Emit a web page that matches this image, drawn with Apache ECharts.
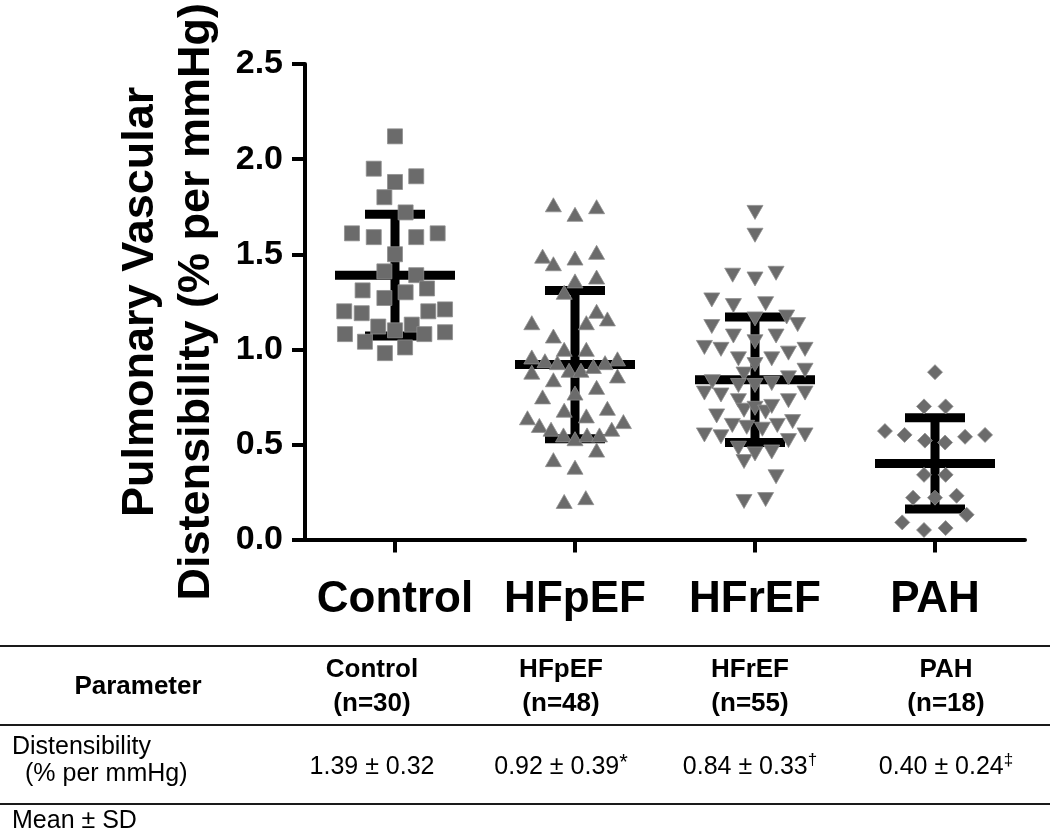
<!DOCTYPE html>
<html>
<head>
<meta charset="utf-8">
<script src="https://cdn.jsdelivr.net/npm/echarts@6/dist/echarts.min.js"></script>
<style>html,body{margin:0;padding:0;background:#fff;}#c{width:1050px;height:833px;}</style>
</head>
<body>
<div id="c"></div>
<script>
// ---- data ----
const groups = ['Control', 'HFpEF', 'HFrEF', 'PAH'];
const nCounts = [30, 48, 55, 18];
const means = [1.39, 0.92, 0.84, 0.40];
const sds = [0.32, 0.39, 0.33, 0.24];
const sigMarks = ['', '*', '\u2020', '\u2021'];
const yTicks = [0, 0.5, 1.0, 1.5, 2.0, 2.5];

const controlVals = [2.12,1.95,1.88,1.91,1.80,1.72,1.61,1.59,1.59,1.61,1.50,1.41,1.39,1.31,1.30,1.32,1.27,1.20,1.19,1.20,1.21,1.12,1.13,1.08,1.10,1.08,1.09,1.04,1.01,0.98];
const controlJitter = [0,-0.118,0,0.118,-0.059,0.059,-0.239,-0.118,0.118,0.237,0,-0.059,0.118,-0.18,0.059,0.178,-0.059,-0.282,-0.185,0.185,0.278,-0.093,0.093,-0.278,0,0.163,0.278,-0.167,0.056,-0.056];

const hfpefVals = [1.76,1.71,1.75,1.49,1.45,1.48,1.51,1.36,1.38,1.30,1.20,1.16,1.14,1.14,1.07,1.00,1.00,0.96,0.94,0.93,0.95,0.93,0.88,0.89,0.89,0.91,0.86,0.84,0.80,0.77,0.75,0.68,0.69,0.64,0.60,0.65,0.62,0.58,0.58,0.55,0.53,0.55,0.55,0.47,0.42,0.38,0.20,0.22];
const hfpefJitter = [-0.12,0,0.12,-0.18,-0.12,0,0.12,0,0.12,-0.06,0.12,0.18,-0.24,0.063,-0.12,-0.06,0.063,-0.24,-0.167,-0.098,0.236,0.167,-0.24,-0.033,0.033,0.102,0.236,-0.12,0.12,0,-0.18,-0.06,0.18,-0.264,-0.198,0.063,0.269,-0.133,0.204,-0.064,0,0.067,0.136,0.12,-0.12,0,-0.06,0.06];

const hfrefVals = [1.72,1.60,1.39,1.37,1.40,1.26,1.23,1.24,1.16,1.17,1.13,1.12,1.07,1.07,1.04,1.01,1.00,1.00,0.95,0.95,0.98,0.92,0.89,0.87,0.83,0.85,0.81,0.81,0.82,0.77,0.76,0.77,0.73,0.73,0.68,0.69,0.67,0.70,0.65,0.60,0.59,0.58,0.60,0.62,0.55,0.54,0.55,0.52,0.48,0.45,0.46,0.41,0.33,0.20,0.21];
const hfrefJitter = [0,0,-0.124,0,0.117,-0.24,-0.12,0.059,0,0.176,0.237,-0.24,-0.12,0.117,0,-0.281,-0.189,0.278,-0.092,0.093,0.186,0,0.278,-0.061,-0.237,0.186,-0.092,0,0.093,-0.281,-0.189,0.278,-0.092,0.186,-0.061,0,0.059,0.093,-0.213,-0.126,-0.046,0.041,0.124,0.209,-0.281,-0.189,0.278,0.186,-0.092,0,0.093,-0.061,0.117,-0.061,0.059];

const pahVals = [0.88,0.70,0.70,0.57,0.55,0.52,0.51,0.54,0.55,0.34,0.34,0.22,0.22,0.23,0.13,0.09,0.05,0.06];
const pahJitter = [0,-0.061,0.059,-0.278,-0.169,-0.056,0.056,0.167,0.278,-0.061,0.059,-0.122,0,0.12,0.176,-0.182,-0.061,0.059];

// ---- build ----
const FONT = '"Liberation Sans", Arial, Helvetica, sans-serif';
const pts = (vals, jit, gi) => vals.map((v, i) => [gi + jit[i], v]);
const pointColor = '#6b6b6b';
const pointBorder = '#8f8f8f';

function scatter(name, data, symbol, size, rotate) {
  return {
    type: 'scatter', name, xAxisIndex: 1, yAxisIndex: 0, data,
    symbol, symbolSize: size, symbolRotate: rotate || 0, z: 5,
    itemStyle: { color: pointColor, borderColor: pointBorder, borderWidth: 0.8, opacity: 1 },
    emphasis: { disabled: true }, silent: true
  };
}

const statsData = groups.map((g, i) => [i, means[i], sds[i]]);

const chart = echarts.init(document.getElementById('c'), null, { renderer: 'canvas' });

const colCenters = [372, 561, 750, 946];
const graphics = [];
[646, 725, 804].forEach(y => graphics.push({
  type: 'line', shape: { x1: 0, y1: y, x2: 1050, y2: y },
  style: { stroke: '#1a1a1a', lineWidth: 2 }, silent: true
}));
function txt(text, x, y, size, weight, align, extra) {
  const st = Object.assign({
    text, x, y, fontSize: size, fontWeight: weight, fontFamily: FONT, fill: '#000',
    textAlign: align, align: align, textVerticalAlign: 'middle', verticalAlign: 'middle'
  }, extra || {});
  graphics.push({ type: 'text', style: st, silent: true });
}
txt('Parameter', 138, 687, 26, 'bold', 'center');
groups.forEach((g, i) => {
  txt(g + '\n(n=' + nCounts[i] + ')', colCenters[i], 687, 26, 'bold', 'center', { lineHeight: 34 });
  const main = means[i].toFixed(2) + ' \u00b1 ' + sds[i].toFixed(2);
  const t = sigMarks[i] ? '{v|' + main + '}{s|' + sigMarks[i] + '}' : '{v|' + main + '}';
  txt(t, colCenters[i], 767, 25, 'normal', 'center', {
    rich: {
      v: { fontSize: 25, fontFamily: FONT, fill: '#000', lineHeight: 30 },
      s: { fontSize: sigMarks[i] === '*' ? 22 : 17, fontFamily: FONT, fill: '#000', verticalAlign: 'top', lineHeight: 30 }
    }
  });
});
txt('Distensibility', 12, 747, 25, 'normal', 'left');
txt('(% per mmHg)', 25, 774, 25, 'normal', 'left');
txt('Mean \u00b1 SD', 12, 821, 25, 'normal', 'left');

const option = {
  backgroundColor: '#fff',
  animation: false,
  grid: { left: 305, right: 25, top: 63, bottom: 293.5, containLabel: false },
  xAxis: [
    {
      type: 'category', data: groups, boundaryGap: true,
      axisLine: { show: true, onZero: false, lineStyle: { color: '#000', width: 4 } },
      axisTick: { show: true, alignWithLabel: true, interval: 0, length: 13, lineStyle: { color: '#000', width: 4 } },
      axisLabel: { interval: 0, color: '#000', fontSize: 44, fontWeight: 'bold', fontFamily: FONT, margin: 38 },
      splitLine: { show: false }
    },
    { type: 'value', min: -0.5, max: 3.5, show: false }
  ],
  yAxis: [{
    type: 'value', min: 0, max: 2.5, interval: 0.5,
    name: 'Pulmonary Vascular\nDistensibility (% per mmHg)',
    nameLocation: 'middle', nameRotate: 90, nameGap: 75,
    nameTextStyle: { color: '#000', fontSize: 45, fontWeight: 'bold', fontFamily: FONT, lineHeight: 56 },
    axisLine: { show: true, onZero: false, lineStyle: { color: '#000', width: 4 } },
    axisTick: { show: true, length: 13, lineStyle: { color: '#000', width: 4 } },
    axisLabel: { color: '#000', fontSize: 34, fontWeight: 'bold', fontFamily: FONT, margin: 22,
      formatter: v => (yTicks.indexOf(v) >= 0 ? v.toFixed(1) : '') },
    splitLine: { show: false }
  }],
  series: [
    {
      type: 'custom', xAxisIndex: 1, yAxisIndex: 0, data: statsData, z: 2, silent: true,
      renderItem: function (params, api) {
        const gi = api.value(0), m = api.value(1), s = api.value(2);
        const unit = api.size([1, 0])[0];
        const c = api.coord([gi, m]);
        const t = api.coord([gi, m + s]);
        const b = api.coord([gi, m - s]);
        const lw = 9;
        const style = { fill: '#000' };
        return {
          type: 'group',
          children: [
            { type: 'rect', shape: { x: c[0] - lw / 2, y: t[1], width: lw, height: b[1] - t[1] }, style },
            { type: 'rect', shape: { x: t[0] - unit / 6, y: t[1] - lw / 2, width: unit / 3, height: lw }, style },
            { type: 'rect', shape: { x: b[0] - unit / 6, y: b[1] - lw / 2, width: unit / 3, height: lw }, style },
            { type: 'rect', shape: { x: c[0] - unit / 3, y: c[1] - lw / 2, width: unit * 2 / 3, height: lw }, style }
          ]
        };
      }
    },
    scatter('Control', pts(controlVals, controlJitter, 0), 'rect', 15),
    scatter('HFpEF', pts(hfpefVals, hfpefJitter, 1), 'triangle', [16, 14]),
    scatter('HFrEF', pts(hfrefVals, hfrefJitter, 2), 'triangle', [16, 14], 180),
    scatter('PAH', pts(pahVals, pahJitter, 3), 'diamond', [15, 15])
  ],
  graphic: graphics
};
chart.setOption(option);
</script>
</body>
</html>
